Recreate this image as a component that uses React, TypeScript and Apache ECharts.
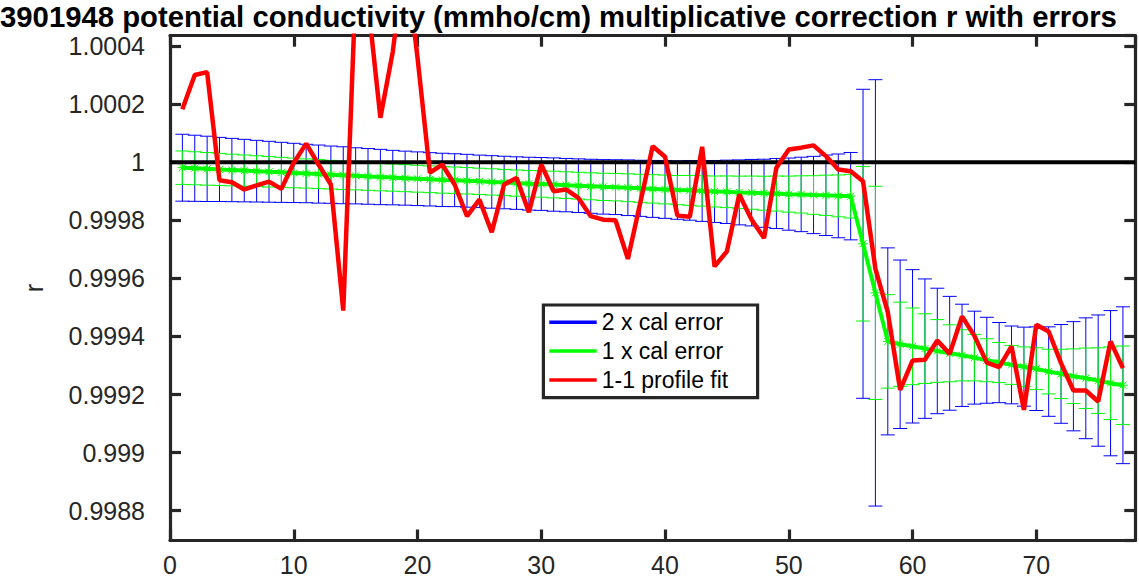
import React, { useEffect, useRef } from 'react';
import * as echarts from 'echarts';

const titleText = '3901948 potential conductivity (mmho/cm) multiplicative correction r with errors';
const yAxisName = 'r';
const legendNames = ['2 x cal error', '1 x cal error', '1-1 profile fit'];

const profiles = [
  1, 2, 3, 4, 5, 6, 7, 8, 9, 10, 11, 12, 13, 14, 15, 16, 17, 18, 19, 20,
  21, 22, 23, 24, 25, 26, 27, 28, 29, 30, 31, 32, 33, 34, 35, 36, 37, 38, 39, 40,
  41, 42, 43, 44, 45, 46, 47, 48, 49, 50, 51, 52, 53, 54, 55, 56, 57, 58, 59, 60,
  61, 62, 63, 64, 65, 66, 67, 68, 69, 70, 71, 72, 73, 74, 75, 76, 77,
];

// calibrated multiplicative correction (centre of the error bars)
const calCenter = [
  0.999981, 0.999979, 0.999977, 0.999975, 0.999973, 0.999971, 0.999969, 0.999967, 0.999965, 0.999963,
  0.999961, 0.999959, 0.999957, 0.999955, 0.999953, 0.999951, 0.999949, 0.999947, 0.999945, 0.999943,
  0.999941, 0.999939, 0.999938, 0.999936, 0.999934, 0.999932, 0.999930, 0.999928, 0.999926, 0.999925,
  0.999923, 0.999921, 0.999919, 0.999917, 0.999915, 0.999914, 0.999912, 0.999910, 0.999908, 0.999906,
  0.999904, 0.999903, 0.999901, 0.999899, 0.999898, 0.999896, 0.999895, 0.999893, 0.999892, 0.999890,
  0.999889, 0.999887, 0.999886, 0.999884, 0.999883, 0.999719, 0.999550, 0.999383, 0.999373, 0.999366,
  0.999358, 0.999350, 0.999342, 0.999335, 0.999327, 0.999318, 0.999310, 0.999302, 0.999296, 0.999289,
  0.999279, 0.999271, 0.999263, 0.999256, 0.999248, 0.999239, 0.999232,
];

// 1 x calibration error
const calError = [
  0.0000576, 0.0000569, 0.0000562, 0.0000552, 0.0000545, 0.0000538, 0.0000531, 0.0000524, 0.0000517, 0.0000510,
  0.0000503, 0.0000500, 0.0000493, 0.0000490, 0.0000483, 0.0000479, 0.0000476, 0.0000469, 0.0000465, 0.0000462,
  0.0000459, 0.0000459, 0.0000455, 0.0000455, 0.0000452, 0.0000452, 0.0000452, 0.0000452, 0.0000455, 0.0000455,
  0.0000459, 0.0000459, 0.0000462, 0.0000465, 0.0000469, 0.0000472, 0.0000479, 0.0000483, 0.0000490, 0.0000497,
  0.0000503, 0.0000514, 0.0000524, 0.0000534, 0.0000545, 0.0000559, 0.0000572, 0.0000586, 0.0000603, 0.0000621,
  0.0000641, 0.0000665, 0.0000693, 0.0000721, 0.0000752, 0.000266, 0.000367, 0.000161, 0.000145, 0.000132,
  0.000120, 0.000108, 0.000098, 0.000088, 0.000080, 0.000074, 0.000069, 0.000067, 0.000068, 0.000072,
  0.000077, 0.000085, 0.000094, 0.000104, 0.000113, 0.000125, 0.000135,
];

// 1-1 profile fit
const profileFit = [
  1.000182, 1.000300, 1.000310, 0.999938, 0.999931, 0.999906, 0.999920, 0.999933, 0.999908, 0.999998,
  1.000064, 0.999992, 0.999923, 0.999489, 1.000600, 1.000550, 1.000153, 1.000380, 1.000720, 1.000360,
  0.999964, 0.999992, 0.999923, 0.999814, 0.999871, 0.999759, 0.999923, 0.999946, 0.999828, 0.999992,
  0.999900, 0.999906, 0.999877, 0.999814, 0.999802, 0.999800, 0.999667, 0.999860, 1.000055, 1.000019,
  0.999816, 0.999812, 1.000053, 0.999641, 0.999693, 0.999889, 0.999802, 0.999739, 0.999981, 1.000044,
  1.000050, 1.000058, 1.000021, 0.999975, 0.999969, 0.999934, 0.999633, 0.999484, 0.999216, 0.999317,
  0.999320, 0.999386, 0.999340, 0.999469, 0.999402, 0.999310, 0.999294, 0.999366, 0.999147, 0.999440,
  0.999417, 0.999308, 0.999214, 0.999214, 0.999176, 0.999383, 0.999291,
];

const referenceLine = [[0, 1], [78, 1]];

const xMin = 0;
const xMax = 78;
const xInterval = 10;
const yMin = 0.9986974;
const yMax = 1.0004355;

const FONT = '"Liberation Sans", Arial, Helvetica, sans-serif';
const AXIS_COLOR = '#262626';

const blueData = profiles.map((x, i) => [x, calCenter[i] - 2 * calError[i], calCenter[i] + 2 * calError[i]]);
const greenData = profiles.map((x, i) => [x, calCenter[i] - calError[i], calCenter[i] + calError[i]]);
const centerData = profiles.map((x, i) => [x, calCenter[i]]);
const fitData = profiles.map((x, i) => [x, profileFit[i]]);

const makeErrorBar = (color: string) => (_params: any, api: any) => {
  const x = api.value(0);
  const lo = api.value(1);
  const hi = api.value(2);
  const top = api.coord([x, hi]);
  const bot = api.coord([x, lo]);
  const cap = 7;
  const style = { stroke: color, lineWidth: 1 };
  return {
    type: 'group',
    children: [
      { type: 'line', shape: { x1: top[0], y1: top[1], x2: bot[0], y2: bot[1] }, style },
      { type: 'line', shape: { x1: top[0] - cap, y1: top[1], x2: top[0] + cap, y2: top[1] }, style },
      { type: 'line', shape: { x1: bot[0] - cap, y1: bot[1], x2: bot[0] + cap, y2: bot[1] }, style },
    ],
  };
};

const asterisk = 'path://M0,-10L0,10M-10,0L10,0M-7,-7L7,7M-7,7L7,-7';

export default function App() {
  const ref = useRef<HTMLDivElement>(null);

  useEffect(() => {
    if (!ref.current) return;
    const chart = echarts.init(ref.current, undefined, { renderer: 'svg' });

    const axisLine = { show: true, onZero: false, lineStyle: { color: AXIS_COLOR, width: 3.2 } };
    const axisTick = { show: true, inside: true, length: 11, lineStyle: { color: AXIS_COLOR, width: 3.2 } };
    const yFormatter = (v: number) => String(+v.toFixed(4));

    const legendRows = [322.3, 351, 380];
    const legendColors = ['#0000ff', '#00ff00', '#ff0000'];

    const option: any = {
      animation: false,
      backgroundColor: '#ffffff',
      title: {
        text: titleText,
        left: 0,
        top: 2,
        padding: 0,
        textStyle: { fontSize: 29.3, fontWeight: 'bold', color: '#000000', fontFamily: FONT },
      },
      grid: { left: 170, right: 3.7, top: 35.7, bottom: 45.5, containLabel: false },
      xAxis: [
        {
          type: 'value',
          position: 'bottom',
          min: xMin,
          max: xMax,
          interval: xInterval,
          axisLine,
          axisTick,
          splitLine: { show: false },
          axisLabel: {
            show: true,
            margin: 12,
            showMaxLabel: false,
            color: AXIS_COLOR,
            fontSize: 25,
            fontFamily: FONT,
          },
        },
        {
          type: 'value',
          position: 'top',
          min: xMin,
          max: xMax,
          interval: xInterval,
          axisLine,
          axisTick,
          splitLine: { show: false },
          axisLabel: { show: false },
        },
      ],
      yAxis: [
        {
          type: 'value',
          position: 'left',
          min: yMin,
          max: yMax,
          splitNumber: 8,
          axisLine,
          axisTick,
          splitLine: { show: false },
          name: yAxisName,
          nameLocation: 'middle',
          nameRotate: 90,
          nameGap: 124,
          nameTextStyle: { fontSize: 25, color: AXIS_COLOR, fontFamily: FONT },
          axisLabel: {
            show: true,
            margin: 25,
            showMinLabel: false,
            showMaxLabel: false,
            color: AXIS_COLOR,
            fontSize: 25,
            fontFamily: FONT,
            formatter: yFormatter,
          },
        },
        {
          type: 'value',
          position: 'right',
          min: yMin,
          max: yMax,
          splitNumber: 8,
          axisLine,
          axisTick,
          splitLine: { show: false },
          axisLabel: { show: false },
        },
      ],
      series: [
        {
          name: legendNames[0],
          type: 'custom',
          xAxisIndex: 0,
          yAxisIndex: 0,
          renderItem: makeErrorBar('#0000ff'),
          encode: { x: 0, y: [1, 2] },
          data: blueData,
          clip: true,
          z: 2,
        },
        {
          name: legendNames[1],
          type: 'custom',
          xAxisIndex: 0,
          yAxisIndex: 0,
          renderItem: makeErrorBar('#00ff00'),
          encode: { x: 0, y: [1, 2] },
          data: greenData,
          clip: true,
          z: 3,
        },
        {
          name: 'cal',
          type: 'line',
          xAxisIndex: 0,
          yAxisIndex: 0,
          data: centerData,
          symbol: asterisk,
          symbolSize: 10,
          showAllSymbol: true,
          itemStyle: { color: '#00ff00', borderColor: '#00ff00', borderWidth: 1 },
          lineStyle: { color: '#00ff00', width: 4 },
          z: 4,
        },
        {
          name: 'ref',
          type: 'line',
          xAxisIndex: 0,
          yAxisIndex: 0,
          data: referenceLine,
          symbol: 'none',
          lineStyle: { color: '#000000', width: 4 },
          z: 5,
        },
        {
          name: legendNames[2],
          type: 'line',
          xAxisIndex: 0,
          yAxisIndex: 0,
          data: fitData,
          symbol: 'none',
          clip: true,
          lineStyle: { color: '#ff0000', width: 4.5 },
          z: 6,
        },
      ],
      graphic: [
        {
          type: 'rect',
          shape: { x: 543.4, y: 305, width: 214.2, height: 92.6 },
          style: { fill: '#ffffff', stroke: AXIS_COLOR, lineWidth: 3.2 },
          z: 100,
        },
        ...legendNames.map((name, i) => ({
          type: 'group',
          z: 101,
          children: [
            {
              type: 'line',
              shape: { x1: 549.3, y1: legendRows[i], x2: 596.7, y2: legendRows[i] },
              style: { stroke: legendColors[i], lineWidth: 3.5 },
              z: 101,
            },
            {
              type: 'text',
              x: 601.7,
              y: legendRows[i],
              style: {
                text: name,
                fill: '#000000',
                fontSize: 23,
                fontFamily: FONT,
                verticalAlign: 'middle',
                align: 'left',
              },
              z: 101,
            },
          ],
        })),
      ],
    };

    chart.setOption(option);
    return () => {
      chart.dispose();
    };
  }, []);

  return (
    <div
      ref={ref}
      style={{ position: 'fixed', left: 0, top: 0, width: 1139, height: 586, background: '#fff' }}
    />
  );
}
